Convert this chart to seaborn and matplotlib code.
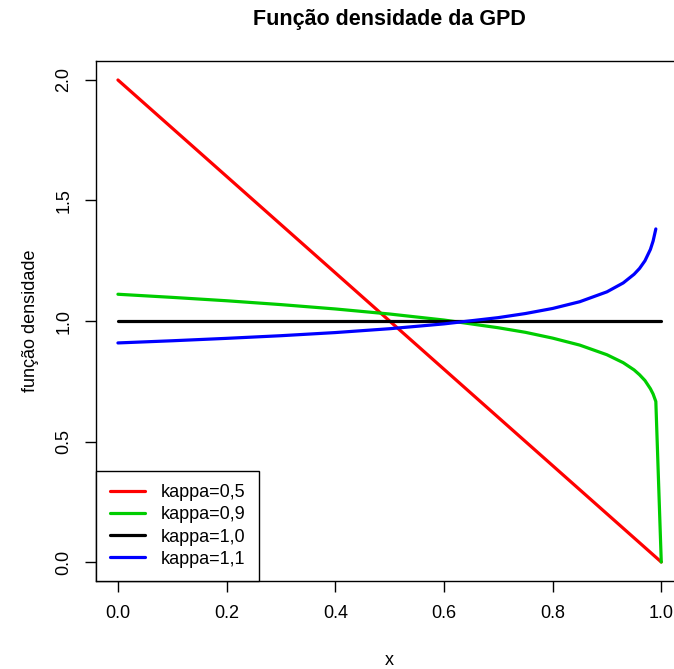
import matplotlib
matplotlib.use("Agg")
import matplotlib.pyplot as plt
import seaborn as sns
import pandas as pd

# Data
x_red = [0.0, 1.0]
y_red = [2.0, 0.0]

x_green = [0.0, 0.1, 0.2, 0.3, 0.4, 0.5, 0.6, 0.7, 0.75, 0.8, 0.85, 0.9, 0.93, 0.95, 0.96, 0.97, 0.98, 0.985, 0.99, 1.0]
y_green = [1.111, 1.098, 1.084, 1.068, 1.050, 1.029, 1.004, 0.972, 0.953, 0.929, 0.900, 0.860, 0.827, 0.797, 0.777, 0.753, 0.719, 0.697, 0.666, 0.0]

x_black = [0.0, 1.0]
y_black = [1.0, 1.0]

x_blue = [0.0, 0.1, 0.2, 0.3, 0.4, 0.5, 0.6, 0.7, 0.75, 0.8, 0.85, 0.9, 0.93, 0.95, 0.96, 0.97, 0.98, 0.985, 0.99]
y_blue = [0.909, 0.918, 0.928, 0.939, 0.952, 0.968, 0.988, 1.014, 1.031, 1.052, 1.080, 1.121, 1.158, 1.194, 1.218, 1.250, 1.297, 1.332, 1.382]

labels = ["kappa=0,5", "kappa=0,9", "kappa=1,0", "kappa=1,1"]
colors = ["#FF0000", "#00CD00", "#000000", "#0000FF"]
x_ticks = [0.0, 0.2, 0.4, 0.6, 0.8, 1.0]
y_ticks = [0.0, 0.5, 1.0, 1.5, 2.0]

sns.set_style("white")
plt.rcParams["font.family"] = ["Liberation Sans", "DejaVu Sans"]
plt.rcParams["text.color"] = "black"
plt.rcParams["axes.labelcolor"] = "black"

fig = plt.figure(figsize=(6.74, 6.69), dpi=100)
ax = fig.add_axes([96.2 / 674, (669 - 581.3) / 669, 586.8 / 674, 520.6 / 669])

series = [(x_red, y_red), (x_green, y_green), (x_black, y_black), (x_blue, y_blue)]
for (xs, ys), lab, col in zip(series, labels, colors):
    df = pd.DataFrame({"x": xs, "y": ys})
    sns.lineplot(data=df, x="x", y="y", ax=ax, color=col, lw=2.3, label=lab,
                 sort=False, estimator=None)

ax.set_xlim(-0.04, 1.04)
ax.set_ylim(-0.08, 2.08)
ax.set_xticks(x_ticks)
ax.set_xticklabels([f"{v:.1f}" for v in x_ticks])
ax.set_yticks(y_ticks)
ax.set_yticklabels([f"{v:.1f}" for v in y_ticks], rotation=90, va="center")
ax.tick_params(axis="both", direction="out", length=8, width=1, colors="black",
               labelsize=13, pad=9, left=True, bottom=True)
for s in ax.spines.values():
    s.set_visible(True)
    s.set_color("black")
    s.set_linewidth(1)

ax.set_xlabel("x", fontsize=13, labelpad=22, color="black")
ax.set_ylabel("função densidade", fontsize=13, labelpad=12, color="black")
fig.suptitle("Função densidade da GPD", x=389.5 / 674, y=1 - 9 / 669, va="top",
             fontsize=15.5, fontweight="bold", color="black")

leg = ax.legend(loc="lower left", borderaxespad=0, fancybox=False, edgecolor="black",
                fontsize=13, handlelength=1.95, handletextpad=0.9, labelspacing=0.29,
                borderpad=0.75, framealpha=1)
leg.get_frame().set_linewidth(1)
for t in leg.get_texts():
    t.set_color("black")

fig.savefig("out.png", dpi=100)
